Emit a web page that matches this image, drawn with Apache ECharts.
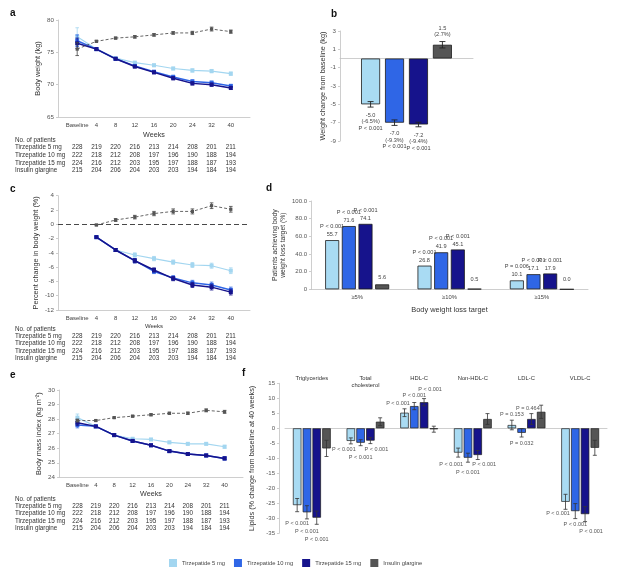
<!DOCTYPE html>
<html><head><meta charset="utf-8">
<script src="https://cdn.jsdelivr.net/npm/echarts@6/dist/echarts.min.js"></script>
<style>html,body{margin:0;padding:0;background:#fff}#c{width:627px;height:571px}</style>
</head><body><div id="c"></div>
<script>
// ---------- DATA ----------
const seriesNames = ['Tirzepatide 5 mg','Tirzepatide 10 mg','Tirzepatide 15 mg','Insulin glargine'];
const weekLabels = ['Baseline','4','8','12','16','20','24','32','40'];

// a: body weight (kg)
const weightT5  = [77.4,75.5,74.1,73.4,73.0,72.5,72.2,72.1,71.7];
const weightT10 = [76.8,75.5,74.0,72.9,72.0,71.2,70.5,70.3,69.8];
const weightT15 = [76.4,75.5,74.0,72.8,71.9,71.0,70.2,70.0,69.5];
const weightIns = [75.5,76.7,77.2,77.4,77.7,78.0,78.0,78.6,78.2];
const weightErrT5  = [1.4,0.15,0.15,0.2,0.2,0.2,0.25,0.25,0.25];
const weightErrT10 = [0.9,0.15,0.15,0.2,0.2,0.25,0.25,0.25,0.25];
const weightErrT15 = [0.8,0.15,0.15,0.2,0.2,0.25,0.25,0.25,0.25];
const weightErrIns = [1.0,0.15,0.15,0.2,0.2,0.2,0.25,0.3,0.25];

// c: percent change in body weight (%)
const pctT5  = [null,-1.8,-3.6,-4.3,-4.8,-5.3,-5.7,-5.8,-6.5];
const pctT10 = [null,-1.8,-3.6,-5.1,-6.6,-7.5,-8.2,-8.5,-9.2];
const pctT15 = [null,-1.8,-3.6,-5.1,-6.4,-7.6,-8.5,-8.8,-9.5];
const pctIns = [null,-0.1,0.6,1.0,1.5,1.8,1.8,2.6,2.1];
const pctErrT5  = [null,0.1,0.2,0.3,0.3,0.3,0.35,0.35,0.4];
const pctErrT10 = [null,0.1,0.2,0.3,0.3,0.3,0.35,0.4,0.4];
const pctErrT15 = [null,0.1,0.2,0.3,0.3,0.3,0.35,0.4,0.4];
const pctErrIns = [null,0.1,0.2,0.25,0.3,0.35,0.35,0.4,0.4];

// e: BMI
const bmiT5  = [28.1,27.5,26.9,26.65,26.6,26.4,26.3,26.3,26.1];
const bmiT10 = [27.6,27.5,26.9,26.5,26.2,25.8,25.6,25.5,25.3];
const bmiT15 = [27.75,27.5,26.9,26.5,26.2,25.8,25.6,25.5,25.3];
const bmiIns = [27.9,27.9,28.1,28.2,28.3,28.4,28.4,28.6,28.5];
const bmiErrT5  = [0.25,0.05,0.05,0.07,0.07,0.08,0.08,0.08,0.1];
const bmiErrT10 = [0.2,0.05,0.05,0.07,0.07,0.08,0.08,0.08,0.1];
const bmiErrT15 = [0.2,0.05,0.05,0.07,0.07,0.08,0.08,0.08,0.1];
const bmiErrIns = [0.1,0.05,0.05,0.06,0.07,0.07,0.08,0.1,0.1];

// patients table
const patientRows = ['Tirzepatide 5 mg','Tirzepatide 10 mg','Tirzepatide 15 mg','Insulin glargine'];
const patientsT5  = [228,219,220,216,213,214,208,201,211];
const patientsT10 = [222,218,212,208,197,196,190,188,194];
const patientsT15 = [224,216,212,203,195,197,188,187,193];
const patientsIns = [215,204,206,204,203,203,194,184,194];

// b: weight change from baseline
const changeKg  = [-5.0,-7.0,-7.2,1.5];
const changeErr = [0.3,0.3,0.25,0.35];
const changePct = [-6.5,-9.3,-9.4,2.7];
const changeP   = ['P < 0.001','P < 0.001','P < 0.001',null];

// d: patients achieving target
const targetCats = ['\u22655%','\u226510%','\u226515%'];
const targetT5  = [55.7,26.8,10.1];
const targetT10 = [71.6,41.9,17.1];
const targetT15 = [74.1,45.1,17.9];
const targetIns = [5.6,0.5,0.0];
const targetPT5  = ['P < 0.001','P < 0.001','P = 0.006'];
const targetPT10 = ['P < 0.001','P < 0.001','P < 0.001'];
const targetPT15 = ['P < 0.001','P < 0.001','P < 0.001'];

// f: lipids
const lipidCats = ['Triglycerides','Total\ncholesterol','HDL-C','Non-HDL-C','LDL-C','VLDL-C'];
const lipidT5  = [-25.6,-4.2,5.2,-8.1,1.1,-24.5];
const lipidT10 = [-28.0,-4.8,7.4,-9.8,-1.5,-27.6];
const lipidT15 = [-29.8,-4.1,8.7,-8.9,3.1,-28.6];
const lipidIns = [-6.7,2.2,-0.3,3.1,5.5,-6.5];
const lipidErrT5  = [2.2,1.0,1.3,1.5,1.6,2.5];
const lipidErrT10 = [2.2,1.0,1.2,1.5,1.4,2.5];
const lipidErrT15 = [2.2,1.0,1.2,1.5,1.8,2.5];
const lipidErrIns = [2.7,1.3,1.0,1.8,2.2,2.5];
const lipidPT5  = ['P < 0.001','P < 0.001','P < 0.001','P < 0.001','P = 0.153','P < 0.001'];
const lipidPT10 = ['P < 0.001','P < 0.001','P < 0.001','P < 0.001','P = 0.032','P < 0.001'];
const lipidPT15 = ['P < 0.001','P < 0.001','P < 0.001','P < 0.001','P = 0.464','P < 0.001'];

// ---------- STYLE / LAYOUT ----------
const FONT = '"Liberation Sans", Arial, sans-serif';
const barColors  = ['#a9dbf3','#2f66e6','#16138c','#555555'];
const lineColors = ['#a3d6f0','#2f66e6','#16138c','#555555'];
const AXC = '#c2c2c2';
// label placement in panel f: [position, distance, dx] for each tirzepatide series
const fPlace = [
  [['bottom',15.5,0],['bottom',5.5,-7],['top',6.5,-6.5],['bottom',9,-7],['top',7.5,0],['bottom',9,-7.5]],
  [['bottom',16,0],['bottom',11.5,0],['top',7.5,0],['bottom',11.5,0],['bottom',8,0],['bottom',10.5,0]],
  [['bottom',19,0],['bottom',6,6],['top',10,6],['bottom',6.5,6.5],['top',8,-3.5],['bottom',14.5,6]]
];

const chart = echarts.init(document.getElementById('c'));

const grids = [
  {left:58, top:20, width:192, height:97},
  {left:340, top:31, width:133, height:110},
  {left:58, top:195.7, width:192, height:114.3},
  {left:311, top:201, width:277, height:88.3},
  {left:59, top:390, width:184, height:87.3},
  {left:285, top:383.3, width:322, height:150}
].map(g => Object.assign({outerBoundsMode:'none', containLabel:false}, g));

function weekAxis(gi, nameFont, nameGap) {
  return {type:'value', gridIndex:gi, min:-1, max:9, interval:1,
    name:'Weeks', nameLocation:'middle', nameGap:nameGap,
    nameTextStyle:{fontSize:nameFont, color:'#333', fontFamily:FONT},
    axisLine:{show:true, onZero:false, lineStyle:{color:AXC, width:0.8}},
    axisTick:{show:false}, splitLine:{show:false},
    axisLabel:{fontSize:6, color:'#444', margin:5, fontFamily:FONT,
      formatter: v => (weekLabels[v] !== undefined ? weekLabels[v] : '')}};
}
function valAxis(gi, min, max, interval, name, nameGap, extra) {
  return Object.assign({type:'value', gridIndex:gi, min:min, max:max, interval:interval,
    name:name, nameLocation:'middle', nameGap:nameGap,
    nameTextStyle:{fontSize:7.3, color:'#333', fontFamily:FONT},
    axisLine:{show:true, onZero:false, lineStyle:{color:AXC, width:0.8}},
    axisTick:{show:true, length:2, lineStyle:{color:AXC, width:0.8}},
    splitLine:{show:false},
    axisLabel:{fontSize:6.2, color:'#555', margin:4, fontFamily:FONT}}, extra || {});
}

const xAxis = [
  weekAxis(0, 7.2, 15),
  {type:'category', gridIndex:1, data:[''], axisLine:{onZero:true, lineStyle:{color:AXC, width:0.8}},
    axisTick:{show:false}, axisLabel:{show:false}},
  weekAxis(2, 6, 13),
  {type:'category', gridIndex:3, data:targetCats,
    name:'Body weight loss target', nameLocation:'middle', nameGap:17,
    nameTextStyle:{fontSize:7.4, color:'#333', fontFamily:FONT},
    axisLine:{lineStyle:{color:AXC, width:0.8}}, axisTick:{length:3, lineStyle:{color:AXC}},
    axisLabel:{fontSize:5.8, color:'#444', margin:5, fontFamily:FONT}},
  weekAxis(4, 7.2, 13),
  {type:'category', gridIndex:5, data:lipidCats, axisLine:{onZero:true, lineStyle:{color:AXC, width:0.8}},
    axisTick:{show:false}, axisLabel:{show:false}},
  {type:'category', gridIndex:5, data:lipidCats, position:'top',
    axisLine:{show:false, onZero:false}, axisTick:{show:false},
    axisLabel:{show:true, fontSize:5.8, color:'#333', margin:9, verticalAlign:'top', lineHeight:7.5, fontFamily:FONT}}
];

const yAxis = [
  valAxis(0, 65, 80, 5, 'Body weight (kg)', 17),
  valAxis(1, -9, 3, 2, 'Weight change from baseline (kg)', 13),
  valAxis(2, -12, 4, 2, 'Percent change in body weight (%)', 19),
  valAxis(3, 0, 100, 20, 'Patients achieving body\nweight loss target (%)', 24, {
    nameTextStyle:{fontSize:6.8, color:'#333', lineHeight:8, fontFamily:FONT},
    axisLabel:{fontSize:6, color:'#555', margin:4, fontFamily:FONT, formatter: v => v === 0 ? '0' : v.toFixed(1)}}),
  valAxis(4, 24, 30, 1, 'Body mass index (kg m\u207B\u00B2)', 17),
  valAxis(5, -35, 15, 5, 'Lipids (% change from baseline at 40 weeks)', 15, {offset:6,
    axisLabel:{fontSize:6, color:'#555', margin:4, fontFamily:FONT}})
];

function errRender(offsetPx, capW, color, lw) {
  return function (params, api) {
    const x = api.value(0), v = api.value(1), e = api.value(2);
    if (isNaN(v) || isNaN(e)) return null;
    const top = api.coord([x, v + e]);
    const bot = api.coord([x, v - e]);
    const cx = top[0] + offsetPx;
    const st = {stroke:color, lineWidth:lw, fill:null};
    return {type:'group', children:[
      {type:'line', shape:{x1:cx, y1:top[1], x2:cx, y2:bot[1]}, style:st},
      {type:'line', shape:{x1:cx-capW, y1:top[1], x2:cx+capW, y2:top[1]}, style:st},
      {type:'line', shape:{x1:cx-capW, y1:bot[1], x2:cx+capW, y2:bot[1]}, style:st}
    ]};
  };
}

const series = [];

function addLinePanel(gi, arrs, errs, withZero) {
  arrs.forEach((arr, i) => {
    const isIns = i === 3;
    const s = {type:'line', name:seriesNames[i], xAxisIndex:gi, yAxisIndex:gi,
      data: arr.map((v, k) => [k, v]).filter(d => d[1] != null),
      symbol:'rect', symbolSize: isIns ? 3.2 : 4, showSymbol:true,
      lineStyle:{color:lineColors[i], width: isIns ? 0.9 : (i === 0 ? 1.2 : 1.5), type: isIns ? [3, 2] : 'solid'},
      itemStyle:{color:lineColors[i]}, z: 3 + i, silent:true};
    if (withZero && isIns) {
      s.markLine = {silent:true, symbol:'none', label:{show:false},
        lineStyle:{color:'#333', type:[5, 3], width:0.9}, data:[{yAxis:0}]};
    }
    series.push(s);
    series.push({type:'custom', name:'err-' + gi + '-' + i, xAxisIndex:gi, yAxisIndex:gi,
      renderItem: errRender(0, 1.8, isIns ? '#444' : lineColors[i], 0.8),
      data: arr.map((v, k) => [k, v, errs[i][k]]).filter(d => d[1] != null),
      z: 3 + i, silent:true});
  });
}

addLinePanel(0, [weightT5, weightT10, weightT15, weightIns], [weightErrT5, weightErrT10, weightErrT15, weightErrIns], false);
addLinePanel(2, [pctT5, pctT10, pctT15, pctIns], [pctErrT5, pctErrT10, pctErrT15, pctErrIns], true);
addLinePanel(4, [bmiT5, bmiT10, bmiT15, bmiIns], [bmiErrT5, bmiErrT10, bmiErrT15, bmiErrIns], false);

// panel b
const bW = 19, bGap = 0.26;
seriesNames.forEach((nm, i) => {
  const v = changeKg[i];
  series.push({type:'bar', name:nm, xAxisIndex:1, yAxisIndex:1, barWidth:bW, barGap:(bGap * 100) + '%',
    itemStyle:{color:barColors[i], borderColor:'#1c1c1c', borderWidth:0.8},
    data:[{value:v, label:{show:true, position: v < 0 ? 'bottom' : 'top', distance: v < 0 ? 8 : 7,
      fontSize:5.6, lineHeight:6.3, color:'#444', fontFamily:FONT,
      formatter: () => v.toFixed(1) + '\n(' + changePct[i].toFixed(1) + '%)' + (changeP[i] ? '\n' + changeP[i] : '')}}]});
  series.push({type:'custom', name:'errb' + i, xAxisIndex:1, yAxisIndex:1, silent:true, z:5,
    renderItem: errRender((i - 1.5) * bW * (1 + bGap), 3, '#222', 0.9),
    data:[[0, v, changeErr[i]]]});
});

// panel d
const dW = 14, dGap = 0.19;
const targetVals = [targetT5, targetT10, targetT15, targetIns];
const targetPs = [targetPT5, targetPT10, targetPT15, null];
seriesNames.forEach((nm, i) => {
  series.push({type:'bar', name:nm, xAxisIndex:3, yAxisIndex:3, barWidth:dW, barGap:(dGap * 100) + '%',
    itemStyle:{color:barColors[i], borderColor:'#1c1c1c', borderWidth:0.8},
    data: targetVals[i].map((v, k) => ({value:v, label:{show:true, position:'top',
      distance: i === 3 ? (v < 1 ? 5 : 3) : 1.5,
      fontSize:5.6, lineHeight:8, color:'#444', fontFamily:FONT,
      formatter: () => (targetPs[i] ? targetPs[i][k] + '\n' : '') + v.toFixed(1)}}))});
});

// panel f
const fW = 8.5, fGap = 0.15;
const lipidVals = [lipidT5, lipidT10, lipidT15, lipidIns];
const lipidErrs = [lipidErrT5, lipidErrT10, lipidErrT15, lipidErrIns];
const lipidPs = [lipidPT5, lipidPT10, lipidPT15, null];
seriesNames.forEach((nm, i) => {
  series.push({type:'bar', name:nm, xAxisIndex:5, yAxisIndex:5, barWidth:fW, barGap:(fGap * 100) + '%',
    itemStyle:{color:barColors[i], borderColor:'#1c1c1c', borderWidth:0.7},
    data: lipidVals[i].map((v, k) => {
      if (!lipidPs[i]) return {value:v};
      const pl = fPlace[i][k];
      return {value:v, label:{show:true, position:pl[0], distance:pl[1], offset:[pl[2], 0],
        fontSize:5.5, color:'#555', fontFamily:FONT, formatter: () => lipidPs[i][k]}};
    })});
  series.push({type:'custom', name:'errf' + i, xAxisIndex:5, yAxisIndex:5, silent:true, z:5,
    renderItem: errRender((i - 1.5) * fW * (1 + fGap), 2, '#333', 0.8),
    data: lipidVals[i].map((v, k) => [k, v, lipidErrs[i][k]])});
});

const letters = [['a',13,14],['b',334,15],['c',13,190],['d',269,189],['e',13,376],['f',245,374]];
const letterGraphics = letters.map(l => ({type:'text', left:l[1] - 3, top:l[2] - 6,
  style:{text:l[0], font:'bold 10px ' + FONT, fill:'#111'}}));

chart.setOption({
  animation:false,
  textStyle:{fontFamily:FONT},
  grid:grids, xAxis:xAxis, yAxis:yAxis, series:series,
  legend:{data:seriesNames, left:164, top:554, itemWidth:8, itemHeight:8, itemGap:9, icon:'rect',
    textStyle:{fontSize:5.8, color:'#444', fontFamily:FONT}, itemStyle:{borderWidth:0}},
  graphic:letterGraphics
});

// patient tables (column x positions taken from each panel's x axis)
const tableRows = [patientsT5, patientsT10, patientsT15, patientsIns];
const tableYs = [[140,147.5,155.2,163,170.7],[329,336,343.5,351,358.5],[499,506,513.5,521,528.7]];
const tableAxes = [0, 2, 4];
const tableG = [];
tableAxes.forEach((ax, t) => {
  const ys = tableYs[t];
  tableG.push({type:'text', x:15, y:ys[0], style:{text:'No. of patients', font:'6.3px ' + FONT, fill:'#333', textVerticalAlign:'middle'}});
  tableRows.forEach((row, r) => {
    tableG.push({type:'text', x:15, y:ys[r + 1], style:{text:patientRows[r], font:'6.3px ' + FONT, fill:'#333', textVerticalAlign:'middle'}});
    row.forEach((n, k) => {
      const px = chart.convertToPixel({xAxisIndex:ax}, k);
      tableG.push({type:'text', x:px, y:ys[r + 1], style:{text:String(n), font:'6.3px ' + FONT, fill:'#333', textAlign:'center', textVerticalAlign:'middle'}});
    });
  });
});
chart.setOption({graphic:letterGraphics.concat(tableG)});
</script></body></html>
